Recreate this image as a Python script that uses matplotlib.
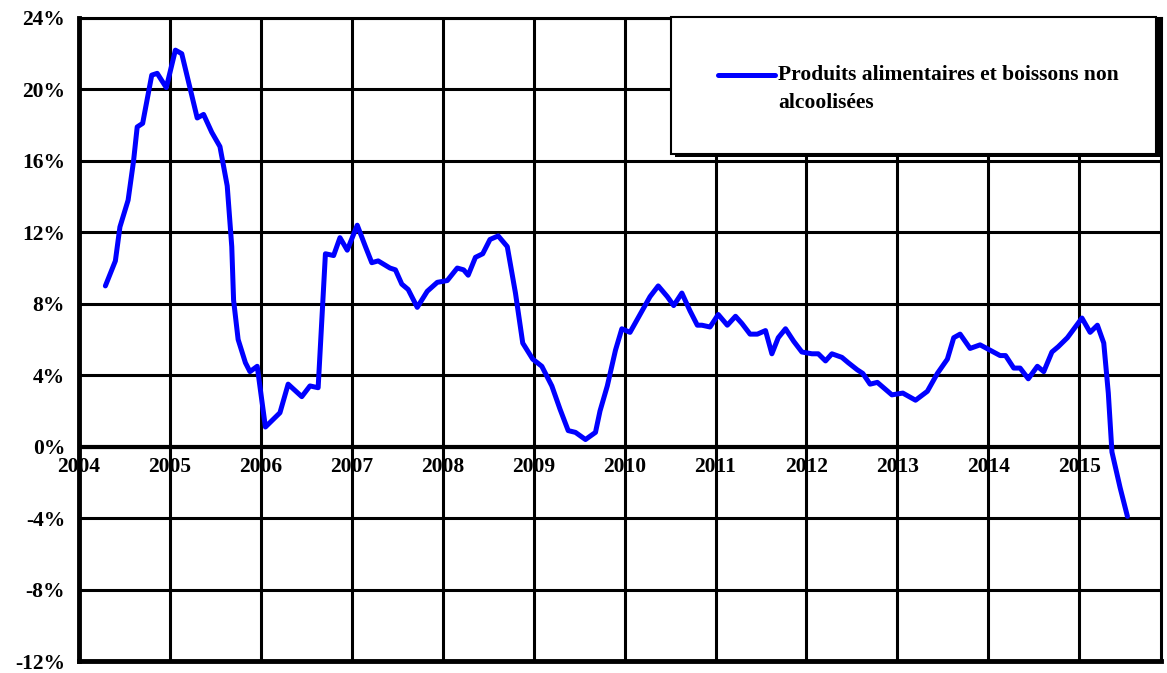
import matplotlib.pyplot as plt
from matplotlib.patches import Rectangle

# decimal year, annual change in %
dates = [2004.29, 2004.40, 2004.45, 2004.54, 2004.60, 2004.64, 2004.70, 2004.80, 2004.86, 2004.96,
         2005.06, 2005.13, 2005.30, 2005.37, 2005.46, 2005.55, 2005.63, 2005.68, 2005.70, 2005.75,
         2005.83, 2005.88, 2005.96, 2006.05, 2006.21, 2006.30, 2006.45, 2006.54, 2006.63, 2006.71,
         2006.80, 2006.87, 2006.95, 2007.06, 2007.15, 2007.22, 2007.29, 2007.42, 2007.48, 2007.55,
         2007.62, 2007.72, 2007.83, 2007.94, 2008.05, 2008.16, 2008.23, 2008.28, 2008.36, 2008.44,
         2008.52, 2008.61, 2008.71, 2008.80, 2008.88, 2008.99, 2009.09, 2009.20, 2009.29, 2009.38,
         2009.46, 2009.57, 2009.68, 2009.73, 2009.81, 2009.90, 2009.97, 2010.06, 2010.17, 2010.28,
         2010.37, 2010.47, 2010.54, 2010.63, 2010.72, 2010.80, 2010.85, 2010.94, 2011.03, 2011.13,
         2011.22, 2011.29, 2011.38, 2011.46, 2011.55, 2011.62, 2011.69, 2011.77, 2011.86, 2011.95,
         2012.06, 2012.13, 2012.21, 2012.28, 2012.39, 2012.46, 2012.56, 2012.62, 2012.70, 2012.78,
         2012.94, 2013.06, 2013.20, 2013.33, 2013.44, 2013.55, 2013.62, 2013.69, 2013.80, 2013.91,
         2014.02, 2014.13, 2014.19, 2014.28, 2014.35, 2014.44, 2014.54, 2014.61, 2014.70, 2014.77,
         2014.87, 2015.03, 2015.12, 2015.20, 2015.27, 2015.32, 2015.36, 2015.45, 2015.53]
values = [9.0, 10.4, 12.3, 13.8, 16.0, 17.9, 18.1, 20.8, 20.9, 20.1,
          22.2, 22.0, 18.4, 18.6, 17.6, 16.8, 14.6, 11.2, 8.2, 6.0,
          4.7, 4.2, 4.5, 1.1, 1.9, 3.5, 2.8, 3.4, 3.3, 10.8,
          10.7, 11.7, 11.0, 12.4, 11.2, 10.3, 10.4, 10.0, 9.9, 9.1,
          8.8, 7.8, 8.7, 9.2, 9.3, 10.0, 9.9, 9.6, 10.6, 10.8,
          11.6, 11.8, 11.2, 8.6, 5.8, 4.9, 4.5, 3.4, 2.1, 0.9,
          0.8, 0.4, 0.8, 2.0, 3.4, 5.4, 6.6, 6.4, 7.4, 8.4,
          9.0, 8.4, 7.9, 8.6, 7.6, 6.8, 6.8, 6.7, 7.4, 6.8,
          7.3, 6.9, 6.3, 6.3, 6.5, 5.2, 6.1, 6.6, 5.9, 5.3,
          5.2, 5.2, 4.8, 5.2, 5.0, 4.7, 4.3, 4.1, 3.5, 3.6,
          2.9, 3.0, 2.6, 3.1, 4.1, 4.9, 6.1, 6.3, 5.5, 5.7,
          5.4, 5.1, 5.1, 4.4, 4.4, 3.8, 4.5, 4.2, 5.3, 5.6,
          6.1, 7.2, 6.4, 6.8, 5.8, 3.0, -0.3, -2.3, -3.9]
years = list(range(2004, 2016))
yticks = [-12, -8, -4, 0, 4, 8, 12, 16, 20, 24]
label_lines = ["Produits alimentaires et boissons non", "alcoolisées"]

plt.rcParams['font.family'] = ['Liberation Serif', 'DejaVu Serif']
plt.rcParams['font.weight'] = 'bold'

fig = plt.figure(figsize=(11.67, 6.73), dpi=100)
ax = fig.add_axes([0.0677, 0.0178, 0.9272, 0.9555])

ax.set_xlim(2004, 2015.9)
ax.set_ylim(-12, 24)

# grid
for yr in years:
    ax.axvline(yr, color='black', lw=2.2, zorder=1)
for yv in yticks:
    ax.axhline(yv, color='black', lw=2.2, zorder=1)
ax.axhline(0, color='black', lw=3, zorder=1)

ax.plot(dates, values, color='#0000ff', lw=3.6, solid_joinstyle='round',
        solid_capstyle='round', zorder=3)

ax.set_xticks([])
ax.set_yticks(yticks)
ax.set_yticklabels([f"{v}%" for v in yticks], fontsize=15.5, fontweight='bold')
ax.tick_params(axis='y', length=0, pad=10)

for yr in years:
    ax.text(yr, -0.6, str(yr), ha='center', va='top', fontsize=15.5, fontweight='bold')

for s in ['left', 'bottom']:
    ax.spines[s].set_linewidth(3.5)
for s in ['top', 'right']:
    ax.spines[s].set_linewidth(2.2)

# legend box with black shadow
tr = ax.transAxes
ax.add_patch(Rectangle((0.551, 0.784), 0.448, 0.213, transform=tr, facecolor='black',
                       edgecolor='none', zorder=5, clip_on=False))
ax.add_patch(Rectangle((0.547, 0.789), 0.448, 0.213, transform=tr, facecolor='white',
                       edgecolor='black', lw=1.5, zorder=6, clip_on=False))
ax.plot([0.591, 0.643], [0.912, 0.912], transform=tr, color='#0000ff', lw=3.6,
        solid_capstyle='round', zorder=7, clip_on=False)
ax.text(0.646, 0.9036, label_lines[0], transform=tr, ha='left', va='baseline',
        fontsize=15.5, fontweight='bold', zorder=7)
ax.text(0.646, 0.860, label_lines[1], transform=tr, ha='left', va='baseline',
        fontsize=15.5, fontweight='bold', zorder=7)

fig.savefig('out.png', dpi=100)
